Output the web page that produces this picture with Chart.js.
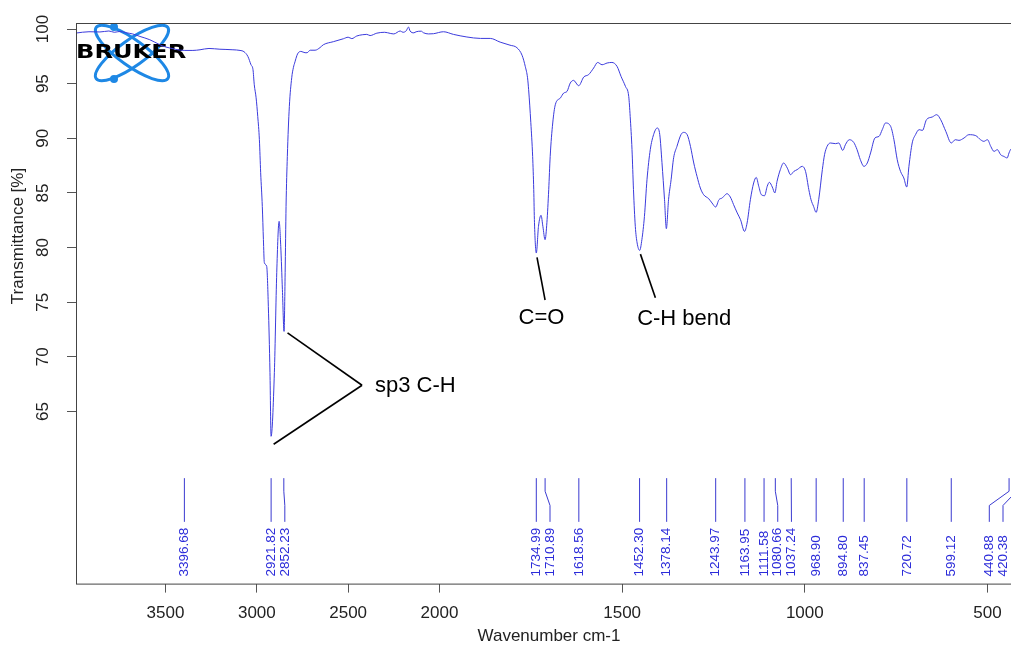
<!DOCTYPE html>
<html>
<head>
<meta charset="utf-8">
<script src="https://cdn.jsdelivr.net/npm/chart.js@4.4.1/dist/chart.umd.min.js"></script>
<style>
  html, body { margin: 0; padding: 0; background: #fff; overflow: hidden; }
  #wrap { width: 1024px; height: 648px; }
</style>
</head>
<body>
<div id="wrap"><canvas id="irChart" width="1024" height="648"></canvas></div>
<script>
/* ---------- spectrum ---------- */
const wavenumbers = [
  3990, 3919, 3859, 3810, 3780, 3749, 3717, 3680, 3640, 3586,
  3531, 3498, 3459, 3443, 3394, 3350, 3311, 3262, 3202, 3169,
  3131, 3092, 3070, 3049, 3032, 3021, 3014, 3004, 2995, 2986,
  2979, 2970, 2964, 2959, 2946, 2937, 2928, 2922, 2904, 2891,
  2878, 2869, 2860, 2851, 2845, 2840, 2833, 2822, 2809, 2800,
  2791, 2781, 2773, 2758, 2736, 2725, 2708, 2681, 2654, 2636,
  2581, 2526, 2500, 2480, 2453, 2420, 2398, 2380, 2343, 2300,
  2270, 2250, 2215, 2200, 2182, 2170, 2161, 2140, 2128, 2100,
  2088, 2060, 2033, 1989, 1962, 1925, 1888, 1861, 1834, 1807,
  1788, 1774, 1765, 1759, 1756, 1750, 1745, 1742, 1740, 1735,
  1729, 1722, 1717, 1711, 1706, 1701, 1697, 1690, 1683, 1669,
  1660, 1651, 1642, 1633, 1619, 1605, 1592, 1578, 1567, 1555,
  1541, 1528, 1514, 1503, 1491, 1482, 1478, 1473, 1469, 1464,
  1459, 1452, 1446, 1439, 1432, 1423, 1414, 1404, 1397, 1391,
  1384, 1379, 1373, 1366, 1359, 1350, 1339, 1332, 1322, 1313,
  1304, 1295, 1286, 1277, 1263, 1254, 1244, 1235, 1226, 1222,
  1213, 1204, 1195, 1185, 1176, 1165, 1158, 1149, 1140, 1133,
  1126, 1119, 1110, 1103, 1097, 1089, 1082, 1076, 1067, 1058,
  1048, 1039, 1030, 1021, 1007, 998, 989, 983, 976, 969,
  962, 952, 946, 939, 930, 916, 907, 896, 889, 878,
  866, 857, 848, 838, 829, 820, 808, 797, 788, 779,
  765, 756, 747, 738, 729, 721, 715, 706, 697, 687,
  678, 667, 651, 639, 628, 614, 599, 588, 578, 564,
  551, 532, 519, 510, 500, 491, 482, 473, 464, 455,
  446, 441, 435, 420, 405
];
const transmittance = [
  99.63, 99.75, 99.73, 99.82, 99.70, 99.78, 99.66, 99.55, 99.32, 99.02,
  98.56, 98.35, 98.20, 98.13, 98.04, 98.04, 98.10, 98.22, 98.15, 98.13,
  98.10, 98.04, 97.92, 97.49, 96.73, 96.28, 94.90, 93.71, 92.00, 89.87,
  86.85, 83.77, 80.73, 78.63, 78.28, 74.62, 68.56, 62.73, 68.56, 77.70,
  82.40, 80.11, 76.15, 72.33, 77.70, 83.77, 88.34, 92.92, 95.54, 96.46,
  97.00, 97.56, 97.83, 97.95, 97.83, 97.83, 98.06, 98.06, 98.30, 98.56,
  98.84, 99.11, 99.25, 99.12, 99.36, 99.48, 99.51, 99.40, 99.62, 99.70,
  99.60, 99.55, 99.82, 99.70, 99.84, 100.18, 99.82, 99.65, 99.75, 99.80,
  99.66, 99.55, 99.57, 99.75, 99.51, 99.27, 99.14, 99.14, 98.80, 98.52,
  98.29, 97.60, 96.55, 95.54, 94.45, 91.43, 88.34, 85.30, 82.28, 79.50,
  81.94, 82.95, 81.94, 80.72, 82.28, 85.30, 88.34, 91.40, 93.07, 93.69,
  94.14, 94.29, 95.06, 95.30, 94.81, 95.61, 95.82, 96.43, 96.94, 96.73,
  96.89, 96.94, 96.58, 95.66, 94.75, 93.83, 92.00, 88.96, 85.30, 81.94,
  80.42, 79.74, 80.72, 82.85, 86.21, 88.96, 90.33, 90.94, 90.33, 87.77,
  84.38, 81.73, 84.38, 86.21, 88.23, 89.26, 90.33, 90.54, 90.33, 89.26,
  87.74, 86.51, 85.45, 84.84, 84.47, 84.08, 83.71, 84.38, 84.54, 84.68,
  84.93, 84.63, 83.93, 83.17, 82.55, 81.48, 82.25, 84.38, 85.91, 86.42,
  85.60, 84.84, 84.75, 85.60, 85.97, 85.54, 85.00, 86.06, 87.13, 87.74,
  87.28, 86.67, 86.97, 87.13, 87.43, 86.97, 85.30, 84.38, 83.77, 83.22,
  84.38, 87.13, 88.50, 89.26, 89.57, 89.51, 89.57, 88.89, 89.41, 89.87,
  89.62, 88.96, 88.04, 87.43, 87.74, 88.66, 90.03, 90.17, 90.79, 91.40,
  91.09, 89.87, 88.04, 86.97, 86.37, 85.54, 87.43, 89.57, 90.33, 90.79,
  90.72, 91.70, 91.95, 92.16, 91.70, 90.63, 89.57, 89.87, 89.81, 90.03,
  90.33, 90.24, 89.87, 89.72, 89.87, 89.26, 88.80, 88.96, 88.50, 88.34,
  88.20, 88.66, 89.02, 88.40, 88.70
];

/* ---------- picked peaks ---------- */
const peakWavenumbers = [
  3396.68, 2921.82, 2852.23, 1734.99, 1710.89, 1618.56, 1452.30, 1378.14,
  1243.97, 1163.95, 1111.58, 1080.66, 1037.24, 968.90, 894.80, 837.45,
  720.72, 599.12, 440.88, 420.38
];

/* ---------- axes ---------- */
const xTickValues = [3500, 3000, 2500, 2000, 1500, 1000, 500];
const yTickValues = [65, 70, 75, 80, 85, 90, 95, 100];

/* ---------- hand annotations: [wavenumber, %T] ---------- */
const annoLabels = ["sp3 C-H", "C=O", "C-H bend"];
const annoFrom = [[[2908, 62.0], [2832, 72.2]], [[1733, 79.1]], [[1450, 79.4]]];
const annoTo = [[2424, 67.4], [1711, 75.2], [1409, 75.4]];
const annoText = [[2353, 67.3], [1721, 73.6], [1459, 73.5]];

/* wavenumbers above 2000 are drawn at half scale */
const BREAK = 2000;
function toAxis(w) { return w <= BREAK ? w : BREAK + (w - BREAK) / 2; }
function fromAxis(t) { return t <= BREAK ? t : BREAK + (t - BREAK) * 2; }

const FONT = "'Liberation Sans', Arial, sans-serif";
Chart.defaults.font.family = FONT;

/* ---------- plugins ---------- */
const frameAndTitles = {
    id: "frameAndTitles",
    afterDraw(chart) {
        const { ctx, chartArea: a, scales: { y } } = chart;
        ctx.save();
        ctx.strokeStyle = "#444";
        ctx.lineWidth = 1;
        ctx.strokeRect(a.left + 0.5, a.top + 0.5, a.right - a.left, a.bottom - a.top);

        ctx.fillStyle = "#222";
        ctx.font = "17px " + FONT;
        ctx.textAlign = "center";
        ctx.textBaseline = "middle";
        // rotated y tick labels
        yTickValues.forEach(v => {
            ctx.save();
            ctx.translate(a.left - 33, y.getPixelForValue(v));
            ctx.rotate(-Math.PI / 2);
            ctx.fillText(String(v), 0, 0);
            ctx.restore();
        });
        // axis titles
        ctx.save();
        ctx.translate(18, 236);
        ctx.rotate(-Math.PI / 2);
        ctx.fillText("Transmittance [%]", 0, 0);
        ctx.restore();
        ctx.fillText("Wavenumber cm-1", (a.left + a.right) / 2 - 1, 636);
        ctx.restore();
    }
};

const brukerLogo = {
    id: "brukerLogo",
    beforeDatasetsDraw(chart) {
        const { ctx, chartArea: a } = chart;
        const cx = a.left + 56, cy = a.top + 30;
        ctx.save();
        ctx.strokeStyle = "#1e88e5";
        ctx.fillStyle = "#1e88e5";
        ctx.lineWidth = 3;
        [0.62, -0.62].forEach(ang => {
            ctx.beginPath();
            ctx.ellipse(cx, cy, 44, 13, ang, 0, Math.PI * 2);
            ctx.stroke();
        });
        [[cx - 18, cy - 26], [cx - 18, cy + 26]].forEach(p => {
            ctx.beginPath();
            ctx.arc(p[0], p[1], 4, 0, Math.PI * 2);
            ctx.fill();
        });
        ctx.fillStyle = "#000";
        ctx.font = "bold 19px 'DejaVu Sans', sans-serif";
        ctx.textBaseline = "middle";
        ctx.translate(a.left, cy);
        ctx.scale(1.27, 1);
        ctx.fillText("BRUKER", 0, 0);
        ctx.restore();
    }
};

const peakMarks = {
    id: "peakMarks",
    afterDatasetsDraw(chart) {
        const { ctx, chartArea: a, scales: { x, y } } = chart;
        const px = peakWavenumbers.map(w => x.getPixelForValue(toAxis(w)));
        const lx = px.slice();
        const gap = 13.7;
        for (let i = 1; i < lx.length; i++) lx[i] = Math.max(lx[i], lx[i - 1] + gap);
        lx[lx.length - 1] = Math.min(lx[lx.length - 1], a.right - 21);
        for (let i = lx.length - 2; i >= 0; i--) lx[i] = Math.min(lx[i], lx[i + 1] - gap);

        const yTop = y.getPixelForValue(58.9);
        const yB1 = y.getPixelForValue(57.7);
        const yB2 = y.getPixelForValue(56.4);
        const yBot = y.getPixelForValue(54.9);
        const yTxt = y.getPixelForValue(49.9);

        ctx.save();
        ctx.strokeStyle = "#3a3ad0";
        ctx.fillStyle = "#2b2bd9";
        ctx.lineWidth = 1;
        ctx.font = "13.5px " + FONT;
        ctx.textAlign = "left";
        ctx.textBaseline = "middle";
        px.forEach((p, i) => {
            ctx.beginPath();
            ctx.moveTo(p, yTop);
            if (Math.abs(p - lx[i]) > 0.5) {
                ctx.lineTo(p, yB1);
                ctx.lineTo(lx[i], yB2);
            }
            ctx.lineTo(lx[i], yBot);
            ctx.stroke();
            ctx.save();
            ctx.translate(lx[i], yTxt);
            ctx.rotate(-Math.PI / 2);
            ctx.fillText(peakWavenumbers[i].toFixed(2), 0, 0);
            ctx.restore();
        });
        ctx.restore();
    }
};

const handNotes = {
    id: "handNotes",
    afterDatasetsDraw(chart) {
        const { ctx, scales: { x, y } } = chart;
        const P = pt => [x.getPixelForValue(toAxis(pt[0])), y.getPixelForValue(pt[1])];
        ctx.save();
        ctx.strokeStyle = "#000";
        ctx.fillStyle = "#000";
        ctx.lineWidth = 1.6;
        ctx.font = "22px " + FONT;
        ctx.textBaseline = "middle";
        annoLabels.forEach((txt, i) => {
            const to = P(annoTo[i]);
            annoFrom[i].forEach(f => {
                const from = P(f);
                ctx.beginPath();
                ctx.moveTo(from[0], from[1]);
                ctx.lineTo(to[0], to[1]);
                ctx.stroke();
            });
            const t = P(annoText[i]);
            ctx.textAlign = i === 1 ? "center" : "left";
            ctx.fillText(txt, t[0], t[1]);
        });
        ctx.restore();
    }
};

/* ---------- chart ---------- */
const points = wavenumbers.map((w, i) => ({ x: toAxis(w), y: transmittance[i] }));

new Chart(document.getElementById("irChart"), {
    type: "line",
    data: {
        datasets: [{
            data: points,
            borderColor: "#3b3bdc",
            borderWidth: 1,
            pointRadius: 0,
            cubicInterpolationMode: "monotone",
            fill: false
        }]
    },
    options: {
        responsive: false,
        animation: false,
        layout: { padding: { top: 23, left: 67, right: 0, bottom: 13 } },
        plugins: { legend: { display: false }, tooltip: { enabled: false } },
        scales: {
            x: {
                type: "linear",
                reverse: true,
                min: toAxis(400),
                max: toAxis(3990),
                afterBuildTicks: axis => {
                    axis.ticks = xTickValues.map(w => ({ value: toAxis(w) }));
                },
                ticks: {
                    callback: v => String(Math.round(fromAxis(v))),
                    color: "#222",
                    font: { size: 17 },
                    padding: 11,
                    maxRotation: 0,
                    autoSkip: false
                },
                grid: { drawOnChartArea: false, tickLength: 9, color: "#555" },
                border: { display: false }
            },
            y: {
                min: 49.25,
                max: 100.55,
                afterBuildTicks: axis => {
                    axis.ticks = yTickValues.map(v => ({ value: v }));
                },
                ticks: { display: false },
                grid: { drawOnChartArea: false, tickLength: 9, color: "#555" },
                border: { display: false }
            }
        }
    },
    plugins: [brukerLogo, peakMarks, handNotes, frameAndTitles]
});
</script>
</body>
</html>
